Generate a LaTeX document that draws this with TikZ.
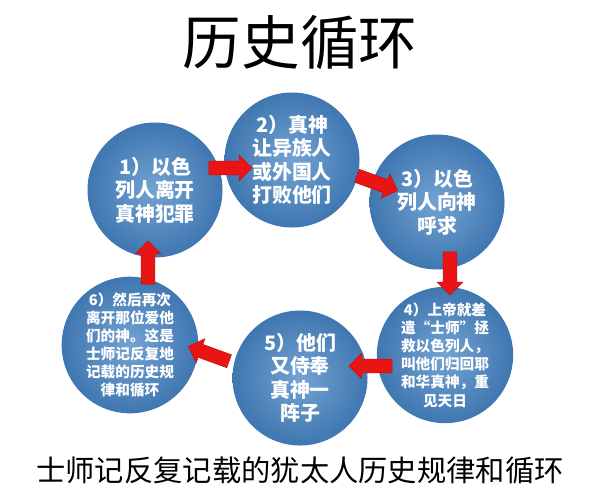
\documentclass[tikz,border=0pt]{standalone}
\usepackage{fontspec}
\newfontfamily\cjk{Noto Sans CJK SC}
\usetikzlibrary{shapes.arrows}
\definecolor{ballblue}{RGB}{70,132,196}
\definecolor{arrowred}{RGB}{235,20,20}
\tikzset{
  stage/.style={circle, minimum size=4.05cm, inner sep=0pt, align=center,
    text=white, font=\cjk\bfseries\fontsize{17}{20}\selectfont,
    inner color=ballblue!75!white, outer color=ballblue!90!black},
  small/.style={font=\cjk\bfseries\fontsize{12.5}{15.5}\selectfont},
  turn/.style={single arrow, fill=arrowred, draw=arrowred!80!black,
    inner xsep=0pt, inner ysep=0.2cm, single arrow head extend=0.18cm,
    minimum height=1.3cm}
}
\begin{document}
\begin{tikzpicture}[x=0.03cm,y=-0.03cm]
  \useasboundingbox (0,0) rectangle (600,501);
  \node (title) at (300,42) {\cjk\fontsize{50}{54}\selectfont 历史循环};
  \node[stage] (s1) at (155,190) {1）以色\\列人离开\\真神犯罪};
  \node[stage] (s2) at (292,160) {2）真神\\让异族人\\或外国人\\打败他们};
  \node[stage] (s3) at (437,202) {3）以色\\列人向神\\呼求};
  \node[stage, small] (s4) at (445,355) {4）上帝就差\\遣“士师”拯\\救以色列人，\\叫他们归回耶\\和华真神，重\\见天日};
  \node[stage] (s5) at (300,378) {5）他们\\又侍奉\\真神一\\阵子};
  \node[stage, small] (s6) at (130,345) {6）然后再次\\离开那位爱他\\们的神。这是\\士师记反复地\\记载的历史规\\律和循环};
  % arrows between stages
  \node[turn] (a12) at (227,168) {};
  \node[turn, rotate=-20] (a23) at (374,182) {};
  \node[turn, rotate=-90] (a34) at (450,270) {};
  \node[turn, rotate=180] (a45) at (374,366) {};
  \node[turn, rotate=160] (a56) at (212,355) {};
  \node[turn, rotate=90] (a61) at (148,266) {};
  \node (caption) at (300,470) {\cjk\fontsize{25}{28}\selectfont 士师记反复记载的犹太人历史规律和循环};
\end{tikzpicture}
\end{document}
